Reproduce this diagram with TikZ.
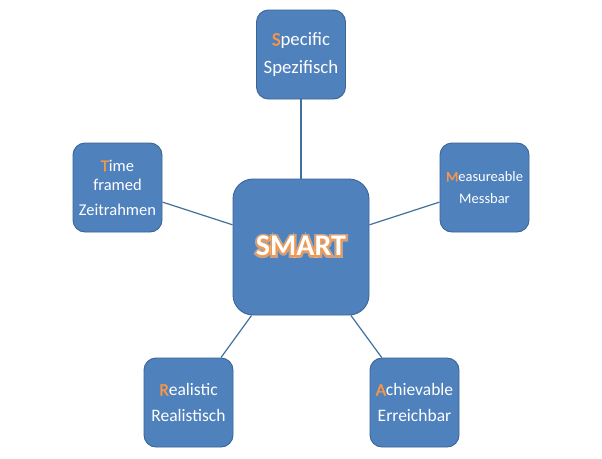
\documentclass[tikz,border=0pt]{standalone}
\usepackage{fontspec}
\setmainfont{Carlito}
\newfontfamily\glowA{Carlito Bold}[FakeBold=8]
\newfontfamily\glowB{Carlito Bold}[FakeBold=15]
\newfontfamily\hlfont{Carlito}[FakeBold=2]
\usetikzlibrary{calc}
\definecolor{boxfill}{HTML}{4F81BD}
\definecolor{boxline}{HTML}{3A6595}
\definecolor{connline}{HTML}{41709F}
\definecolor{glow}{HTML}{F79646}
\definecolor{glowsoft}{HTML}{FAC08F}
\newcommand\hl[1]{{\hlfont\color{glow}#1}}
\tikzset{
  outerbox/.style={draw=boxline, line width=0.9pt, fill=boxfill, rounded corners=12pt,
    minimum width=89pt, minimum height=89pt, inner sep=0pt, text=white, align=center},
  centerbox/.style={draw=boxline, line width=0.9pt, fill=boxfill, rounded corners=20pt,
    minimum width=136pt, minimum height=136pt, inner sep=0pt},
  conn/.style={draw=connline, line width=1.2pt},
  bigtext/.style={inner sep=0pt}
}
\begin{document}
\begin{tikzpicture}[x=1pt,y=-1pt]
\useasboundingbox[fill=white] (0,0) rectangle (602,458);
\node[centerbox] (c) at (301,247) {};
\node[outerbox, font=\fontsize{18.8}{28}\selectfont] (s) at (301,54.5) {\hl{S}pecific\\Spezifisch};
\node[outerbox, font=\fontsize{14.5}{22}\selectfont] (m) at (484.5,187.5) {\hl{M}easureable\\Messbar};
\node[outerbox, font=\fontsize{16.5}{19}\selectfont] (t) at (117.5,187.5) {\hl{T}ime\\framed\\[6pt]Zeitrahmen};
\node[outerbox, font=\fontsize{17.5}{26}\selectfont] (r) at (188.5,402.5) {\hl{R}ealistic\\Realistisch};
\node[outerbox, font=\fontsize{17.5}{26}\selectfont] (a) at (414.5,402.5) {\hl{A}chievable\\Erreichbar};
\draw[conn] (c) -- (s);
\draw[conn] (c) -- (m);
\draw[conn] (c) -- (t);
\draw[conn] (c) -- (r);
\draw[conn] (c) -- (a);
\node[bigtext, text=glowsoft, opacity=0.6, font=\fontsize{30}{34}\glowB] (gsoft) at (301,246) {SMART};
\node[bigtext, text=glow, font=\fontsize{30}{34}\glowA] (ghard) at (301,246) {SMART};
\node[bigtext, text=white, font=\fontsize{30}{34}\selectfont\bfseries] (smart) at (301,246) {SMART};
\end{tikzpicture}
\end{document}
